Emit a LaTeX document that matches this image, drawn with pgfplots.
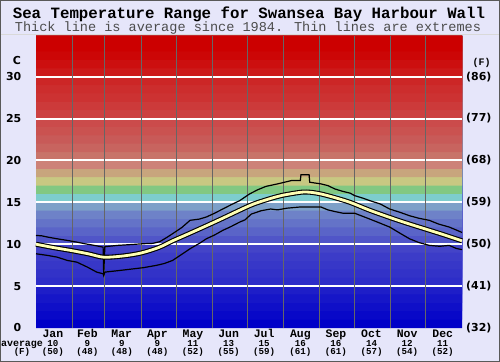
\documentclass[border=0pt]{standalone}
\usepackage{pgfplots}
\pgfplotsset{compat=1.18}
\usepackage{fontspec}
\setmainfont{DejaVu Sans}
\newfontfamily\mono{Liberation Mono}
\definecolor{bg}{RGB}{230,230,250}
\definecolor{band0}{RGB}{0,0,200}
\definecolor{band1}{RGB}{8,8,200}
\definecolor{band2}{RGB}{15,15,200}
\definecolor{band3}{RGB}{22,22,200}
\definecolor{band4}{RGB}{30,30,200}
\definecolor{band5}{RGB}{45,45,200}
\definecolor{band6}{RGB}{50,50,200}
\definecolor{band7}{RGB}{55,55,200}
\definecolor{band8}{RGB}{60,60,200}
\definecolor{band9}{RGB}{68,68,200}
\definecolor{band10}{RGB}{80,85,200}
\definecolor{band11}{RGB}{90,100,200}
\definecolor{band12}{RGB}{100,115,200}
\definecolor{band13}{RGB}{110,130,200}
\definecolor{band14}{RGB}{125,160,200}
\definecolor{band15}{RGB}{125,205,205}
\definecolor{band16}{RGB}{130,200,130}
\definecolor{band17}{RGB}{200,200,130}
\definecolor{band18}{RGB}{200,165,125}
\definecolor{band19}{RGB}{205,130,120}
\definecolor{band20}{RGB}{200,115,105}
\definecolor{band21}{RGB}{200,100,95}
\definecolor{band22}{RGB}{200,90,88}
\definecolor{band23}{RGB}{202,82,80}
\definecolor{band24}{RGB}{203,75,75}
\definecolor{band25}{RGB}{204,65,65}
\definecolor{band26}{RGB}{204,58,58}
\definecolor{band27}{RGB}{204,50,50}
\definecolor{band28}{RGB}{204,45,45}
\definecolor{band29}{RGB}{204,38,38}
\definecolor{band30}{RGB}{204,25,25}
\definecolor{band31}{RGB}{204,15,15}
\definecolor{band32}{RGB}{204,6,6}
\definecolor{band33}{RGB}{204,0,0}
\definecolor{band34}{RGB}{204,0,0}
\definecolor{avgyellow}{RGB}{255,255,180}

\pgfplotstableread{
day T
0 10.0
15 9.6
30 9.25
45 8.85
58 8.45
75 8.6
90 8.95
105 9.6
117 10.4
130 11.2
146 12.2
160 13.1
183 14.6
195 15.2
210 15.8
227 16.2
235 16.2
244 16.0
255 15.6
269 15.0
285 14.1
303 13.2
318 12.5
334 11.8
350 11.1
365 10.4
}\avgdata

\pgfplotstableread{
day T
0 11.05
5 11.0
10 10.85
18 10.65
27 10.45
35 10.25
42 10.05
50 9.86
57.5 9.65
58 6.4
59 9.7
70 9.86
84 9.98
92 10.06
100 10.1
106 10.3
112 10.8
117 11.25
125 12.0
132 12.85
140 13.0
146 13.25
153 13.7
160 14.2
167 14.7
174.5 15.2
183 16.0
190 16.5
197 16.9
207 17.2
219 17.6
226.5 17.6
227 18.3
234 18.3
234.5 17.4
244 17.2
250 17.0
256 16.6
263 16.3
269 16.1
273 15.8
280 15.5
286 15.2
295 14.8
303 14.2
312 13.8
320 13.4
328 13.1
337 12.85
345 12.4
354 12.05
360 11.7
365 11.4
}\updata

\pgfplotstableread{
day T
0 8.86
10 8.66
18 8.46
27 8.06
35 7.86
44 7.27
52 6.67
57.5 6.47
58 6.25
59 6.67
72 6.87
84 7.07
92 7.2
103 7.47
110 7.7
117 8.06
125 8.8
132 9.46
140 10.1
146 10.65
153 11.1
160 11.65
167 12.1
174.5 12.64
179 12.9
184.5 13.6
193 14.0
201 14.2
207 14.1
215 14.3
227 14.45
244 14.45
250 14.1
256 13.9
263 13.7
273 13.7
286 13.0
295 12.5
303 12.05
312 11.3
320 10.65
328 10.2
337 9.86
346 9.75
354 9.86
360 9.5
365 9.35
}\lowdata

\begin{document}
\begin{tikzpicture}
\fill[bg] (0,0) rectangle (500bp,362bp);
\draw[black!65, line width=1bp] (0.5bp,0.5bp) rectangle (499.5bp,361.5bp);
\draw[black!15, line width=0.8bp] (1bp,327.5bp) -- (499bp,327.5bp);
\node[anchor=base, font=\mono\bfseries\fontsize{15.8}{16}\selectfont] at (249bp,343.7bp) {Sea Temperature Range for Swansea Bay Harbour Wall};
\node[anchor=base, text=black!70, font=\mono\fontsize{13.6}{14}\selectfont] at (248bp,330.3bp) {Thick line is average since 1984. Thin lines are extremes};

\begin{axis}[
  at={(36bp,34bp)}, anchor=south west,
  scale only axis, width=426bp, height=292bp,
  xmin=0, xmax=365, ymin=0, ymax=34.85,
  clip=false,
  axis line style={draw=none},
  major tick length=0pt,
  /pgf/number format/assume math mode=true,
  ytick={0,5,10,...,30},
  yticklabel style={anchor=east, inner sep=0pt, xshift=-14.5bp, font=\bfseries\fontsize{11}{11}\selectfont},
  xtick={14.5,44,73.5,104,134.5,165,195.5,226.5,257,287.5,318,348.5},
  xticklabels={Jan,Feb,Mar,Apr,May,Jun,Jul,Aug,Sep,Oct,Nov,Dec},
  xticklabel style={anchor=base, inner sep=0pt, yshift=-9bp, font=\mono\bfseries\fontsize{11.5}{11.5}\selectfont},
]
\pgfplotsinvokeforeach{0,...,34}{
  \addplot[draw=none, fill=band#1] coordinates {(0,#1) (365,#1) (365,34.85) (0,34.85) (0,#1)};
}
\pgfplotsinvokeforeach{5,10,15,20,25,30}{
  \addplot[white, line width=2bp] coordinates {(0,#1) (365,#1)};
}
\pgfplotsinvokeforeach{31,59,90,120,151,181,212,243,273,304,334}{
  \addplot[black!60, line width=0.9bp] coordinates {(#1,0) (#1,34.85)};
}

\addplot[black, line width=1.2bp] table[x=day,y=T] {\updata};
\addplot[black, line width=1.2bp] table[x=day,y=T] {\lowdata};
\addplot[black, line width=5bp, smooth] table[x=day,y=T] {\avgdata};
\addplot[avgyellow, line width=2.8bp, smooth] table[x=day,y=T] {\avgdata};
\end{axis}

\foreach \ta/\fa in {0/32,5/41,10/50,15/59,20/68,25/77,30/86}
  \node[anchor=west, inner sep=0pt, font=\bfseries\fontsize{11}{11}\selectfont] at (466bp,{(34+\ta/34.85*292)*1bp}) {(\fa)};

\foreach \da/\ca/\fa in {14.5/10/50,44/9/48,73.5/9/48,104/9/48,134.5/11/52,165/13/55,195.5/15/59,226.5/16/61,257/16/61,287.5/14/57,318/12/54,348.5/11/52}{
  \node[anchor=base, inner sep=0pt, font=\mono\bfseries\fontsize{9.2}{9.2}\selectfont] at ({(36+\da/365*426)*1bp},15.8bp) {\ca};
  \node[anchor=base, inner sep=0pt, font=\mono\bfseries\fontsize{9.2}{9.2}\selectfont] at ({(36+\da/365*426)*1bp},7.2bp) {(\fa)};
}

\node[font=\bfseries\fontsize{11}{11}\selectfont] at (17bp,301bp) {C};
\node[font=\mono\bfseries\fontsize{10}{10}\selectfont] at (481.7bp,299.3bp) {(F)};
\node[anchor=base, inner sep=0pt, font=\mono\bfseries\fontsize{10}{10}\selectfont] at (22bp,15.8bp) {average};
\node[anchor=base, inner sep=0pt, font=\mono\bfseries\fontsize{9.2}{9.2}\selectfont] at (22bp,7.2bp) {(F)};
\end{tikzpicture}
\end{document}
